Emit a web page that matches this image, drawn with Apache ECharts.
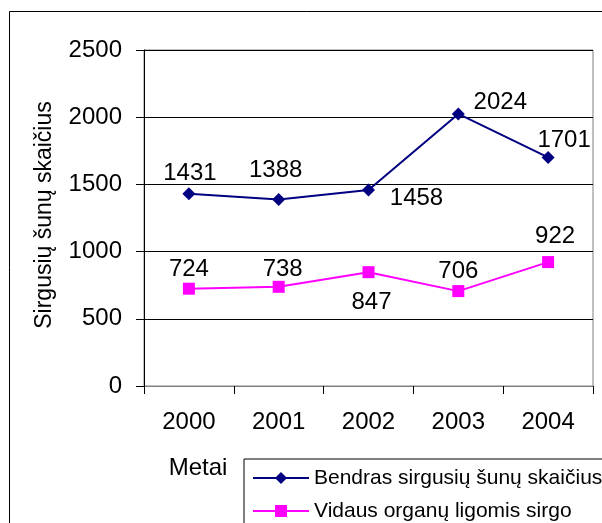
<!DOCTYPE html>
<html>
<head>
<meta charset="utf-8">
<style>
  html, body { margin: 0; padding: 0; background: #fff; }
  #chart { width: 602px; height: 523px; }
</style>
<script src="https://cdn.jsdelivr.net/npm/echarts@6/dist/echarts.min.js"></script>
</head>
<body>
<div id="chart"></div>
<script>
// Sick dogs per year: all cases vs. internal-organ diseases
const years = ['2000', '2001', '2002', '2003', '2004'];
const totalSick = [1431, 1388, 1458, 2024, 1701];
const internalSick = [724, 738, 847, 706, 922];
const seriesNames = ['Bendras sirgusių šunų skaičius', 'Vidaus organų ligomis sirgo'];
const yTicks = { min: 0, max: 2500, step: 500 };

// Where each value label sits relative to its marker
const totalLabelShift = [[1, -20], [-3, -29], [48, 8], [42, -12], [16, -17]];
const internalLabelShift = [[0, -19], [4, -17], [3, 30], [0, -20], [7, -26]];

const FONT = 'Liberation Sans';

function withLabels(values, shifts) {
  return values.map((v, i) => ({
    value: v,
    label: { offset: shifts[i] }
  }));
}

const chart = echarts.init(document.getElementById('chart'), null, { renderer: 'canvas' });

chart.setOption({
  animation: false,
  backgroundColor: '#ffffff',
  textStyle: { fontFamily: FONT, color: '#000' },
  grid: {
    left: 144, right: 9, top: 50, bottom: 137,
    show: true, borderColor: '#808080', borderWidth: 1, backgroundColor: 'transparent'
  },
  graphic: [
    {
      type: 'rect', silent: true, z: -1,
      shape: { x: 9.5, y: 11.5, width: 700, height: 600 },
      style: { fill: 'none', stroke: '#000', lineWidth: 1 }
    },
    {
      type: 'text', silent: true,
      x: 45, y: 215, rotation: Math.PI / 2,
      style: {
        text: 'Sirgusių šunų skaičius', font: '23px "' + FONT + '"',
        fill: '#000', align: 'center', verticalAlign: 'middle'
      }
    },
    {
      type: 'text', silent: true,
      x: 198, y: 468,
      style: {
        text: 'Metai', font: '24px "' + FONT + '"',
        fill: '#000', align: 'center', verticalAlign: 'middle'
      }
    }
  ],
  legend: {
    orient: 'vertical',
    left: 244, top: 459,
    height: 150,
    padding: [8, 8, 8, 8],
    itemWidth: 56, itemHeight: 15, itemGap: 11,
    borderColor: '#000', borderWidth: 1,
    textStyle: { fontFamily: FONT, fontSize: 21, color: '#000', lineHeight: 22 },
    data: seriesNames
  },
  xAxis: {
    type: 'category',
    data: years,
    boundaryGap: true,
    axisLine: { show: true, lineStyle: { color: '#808080', width: 1 } },
    axisTick: { show: true, length: 8, lineStyle: { color: '#000' } },
    axisLabel: { margin: 24, fontFamily: FONT, fontSize: 24, color: '#000' },
    splitLine: { show: false }
  },
  yAxis: {
    type: 'value',
    min: yTicks.min, max: yTicks.max, interval: yTicks.step,
    axisLine: { show: true, lineStyle: { color: '#000', width: 1 } },
    axisTick: { show: true, length: 8, lineStyle: { color: '#000' } },
    axisLabel: {
      margin: 22, fontFamily: FONT, fontSize: 24, color: '#000',
      formatter: (v) => String(v)
    },
    splitLine: { show: true, lineStyle: { color: '#000', width: 1 } }
  },
  series: [
    {
      name: seriesNames[0],
      type: 'line',
      data: withLabels(totalSick, totalLabelShift),
      symbol: 'diamond', symbolSize: 13,
      lineStyle: { color: '#000080', width: 2 },
      itemStyle: { color: '#000080' },
      label: {
        show: true, position: 'inside',
        fontFamily: FONT, fontSize: 24, color: '#000',
        align: 'center', verticalAlign: 'middle'
      },
      emphasis: { disabled: true },
      z: 3
    },
    {
      name: seriesNames[1],
      type: 'line',
      data: withLabels(internalSick, internalLabelShift),
      symbol: 'rect', symbolSize: 12,
      lineStyle: { color: '#ff00ff', width: 2 },
      itemStyle: { color: '#ff00ff' },
      label: {
        show: true, position: 'inside',
        fontFamily: FONT, fontSize: 24, color: '#000',
        align: 'center', verticalAlign: 'middle'
      },
      emphasis: { disabled: true },
      z: 3
    }
  ]
});
</script>
</body>
</html>
